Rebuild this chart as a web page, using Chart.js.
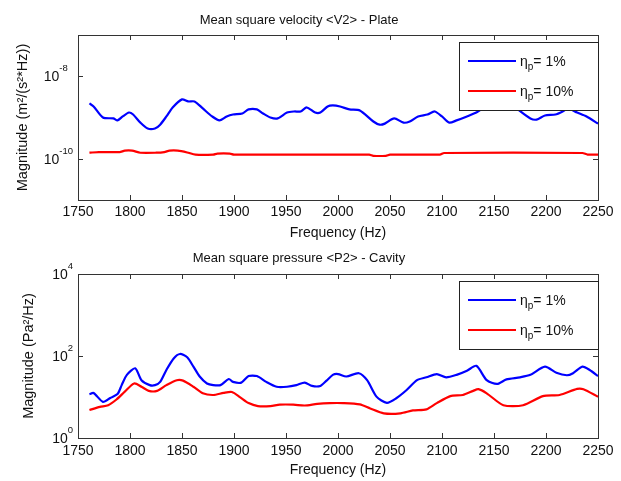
<!DOCTYPE html>
<html><head><meta charset="utf-8">
<script src="https://cdn.jsdelivr.net/npm/chart.js@4.4.1/dist/chart.umd.min.js"></script>
<style>
body{margin:0;background:#fff;width:621px;height:481px;overflow:hidden}
.w{position:absolute;left:0;width:621px}
</style></head><body>
<div class="w" style="top:0;height:240px"><canvas id="c1"></canvas></div>
<div class="w" style="top:240px;height:241px"><canvas id="c2"></canvas></div>
<script>
// ---------- data ----------
const titles = ['Mean square velocity <V2> - Plate', 'Mean square pressure <P2> - Cavity'];
const xTitle = 'Frequency (Hz)';
const yTitles = ['Magnitude (m²/(s²*Hz))', 'Magnitude (Pa²/Hz)'];
const etaValues = ['1%', '10%'];
const xMin = 1750, xMax = 2250, xStep = 50;
const plateYExp = [-10, -8];
const cavityYExp = [0, 2, 4];

const plateFreqBlue = [1761,1765,1774,1784,1788,1793,1799,1803,1810,1817,1824,1829,1835,1841,1850,1856,1862,1870,1879,1886,1893,1899,1908,1914,1922,1928,1935,1942,1951,1958,1964,1970,1978,1983,1990,1995,2002,2011,2021,2034,2040,2045,2054,2063,2069,2077,2086,2093,2100,2107,2114,2124,2133,2139,2148,2158,2166,2173,2185,2191,2199,2209,2216,2221,2230,2239,2250];
const plateBlue = [2.19e-9,1.85e-9,1.0e-9,9.5e-10,8.5e-10,1.06e-9,1.32e-9,1.18e-9,7.5e-10,5.4e-10,5.4e-10,6.7e-10,1.06e-9,1.75e-9,2.75e-9,2.45e-9,2.45e-9,1.66e-9,1.06e-9,8.5e-10,1.06e-9,1.18e-9,1.25e-9,1.57e-9,1.57e-9,1.25e-9,1.0e-9,9.5e-10,1.32e-9,1.4e-9,1.4e-9,1.75e-9,1.32e-9,1.32e-9,1.85e-9,1.96e-9,1.85e-9,1.57e-9,1.48e-9,8.0e-10,6.7e-10,7.1e-10,9.5e-10,7.5e-10,8.0e-10,1.06e-9,1.18e-9,1.4e-9,1.06e-9,7.5e-10,8.5e-10,1.06e-9,1.32e-9,1.66e-9,2.3e-9,2.75e-9,2.3e-9,1.57e-9,9.5e-10,8.9e-10,1.12e-9,1.18e-9,1.4e-9,1.66e-9,1.32e-9,1.06e-9,7.1e-10];

const plateFreqRed = [1761,1770,1790,1795,1802,1810,1825,1833,1838,1846,1855,1863,1880,1884,1896,1900,2030,2034,2046,2050,2098,2102,2235,2240,2250];
const plateRed = [1.40e-10,1.45e-10,1.45e-10,1.57e-10,1.57e-10,1.40e-10,1.40e-10,1.45e-10,1.57e-10,1.57e-10,1.42e-10,1.26e-10,1.26e-10,1.33e-10,1.33e-10,1.26e-10,1.26e-10,1.18e-10,1.18e-10,1.26e-10,1.26e-10,1.38e-10,1.38e-10,1.26e-10,1.26e-10];

const cavityFreqBlue = [1761,1765,1774,1781,1788,1792,1797,1805,1811,1819,1824,1829,1835,1842,1848,1855,1861,1867,1874,1880,1887,1895,1899,1907,1914,1922,1931,1941,1951,1960,1968,1975,1983,1989,1995,2000,2008,2020,2028,2037,2047,2056,2066,2076,2085,2095,2104,2114,2124,2133,2143,2153,2162,2175,2185,2199,2210,2220,2226,2235,2242,2250];
const cavityBlue = [11.7,12.5,7.6,9.5,11.8,19.5,34.7,50,25.7,19.5,19.5,23.4,45.7,87,112,93,55,31.6,21.4,19.5,19.5,27.5,23.4,22.4,32.4,32.4,23.4,17.8,17.8,19.5,22.4,18.6,18.6,25.1,34.7,36.3,31.6,38,25.7,10.2,7.2,9.3,14.8,25.7,30.2,36.3,30.2,34.7,43.7,57.5,25.7,20.9,26.9,30.2,34.7,55,38.9,33.9,38,55,45.7,32.4];

const cavityFreqRed = [1761,1771,1779,1787,1795,1804,1811,1818,1826,1835,1845,1851,1861,1870,1880,1890,1898,1906,1914,1923,1935,1944,1957,1968,1980,1992,2005,2021,2031,2044,2060,2072,2085,2095,2108,2120,2130,2135,2143,2159,2178,2197,2213,2230,2236,2250];
const cavityRed = [4.8,5.75,6.3,8.7,13.5,21.4,17.8,14.1,14.1,19.5,25.7,25.1,17.8,12.3,11.2,12.6,13.2,9.8,7.1,6.0,6.0,6.5,6.5,6.2,6.8,7.1,7.1,6.6,5.25,4.0,4.0,4.7,5.0,7.1,10.5,11.2,14.1,15.5,12.3,6.3,6.3,10.5,11.2,15.8,15.5,10.2];

// ---------- drawing ----------
const FONT = "'Liberation Sans', Arial, Helvetica, sans-serif";
const TEXT = '#111';
const colors = ['#0000ff', '#ff0000'];

const matFrame = {
  id: 'matFrame',
  afterDatasetsDraw(chart, args, opts) {
    const ctx = chart.ctx, ca = chart.chartArea;
    const xs = chart.scales.x, ys = chart.scales.y;
    ctx.save();
    // frame
    ctx.strokeStyle = '#333'; ctx.lineWidth = 1;
    ctx.strokeRect(Math.round(ca.left) + 0.5, Math.round(ca.top) + 0.5,
                   Math.round(ca.right - ca.left), Math.round(ca.bottom - ca.top));
    // inward ticks
    const TL = 5;
    ctx.beginPath();
    for (const t of xs.ticks) {
      const x = Math.round(xs.getPixelForValue(t.value)) + 0.5;
      ctx.moveTo(x, ca.bottom); ctx.lineTo(x, ca.bottom - TL);
      ctx.moveTo(x, ca.top); ctx.lineTo(x, ca.top + TL);
    }
    for (const e of opts.yExp) {
      const y = Math.round(ys.getPixelForValue(Math.pow(10, e))) + 0.5;
      ctx.moveTo(ca.left, y); ctx.lineTo(ca.left + TL, y);
      ctx.moveTo(ca.right, y); ctx.lineTo(ca.right - TL, y);
    }
    ctx.stroke();
    // y tick labels 10^n (left edge aligned on widest label)
    ctx.fillStyle = TEXT;
    ctx.textAlign = 'left'; ctx.textBaseline = 'alphabetic';
    const BASE = '14px ' + FONT, SUP = '9.5px ' + FONT;
    ctx.font = BASE; const bw = ctx.measureText('10').width;
    ctx.font = SUP;
    const maxW = Math.max(...opts.yExp.map(e => ctx.measureText(String(e)).width));
    const lx0 = ca.left - 5 - bw - maxW;
    for (const e of opts.yExp) {
      const y = ys.getPixelForValue(Math.pow(10, e));
      ctx.font = BASE;
      ctx.fillText('10', lx0, y + 5);
      ctx.font = SUP;
      ctx.fillText(String(e), lx0 + bw, y - 5);
    }
    // legend
    const lw = 139, lh = 68;
    const lx = ca.right - lw, ly = ca.top + 7;
    ctx.fillStyle = '#fff';
    ctx.fillRect(lx, ly, lw, lh);
    ctx.strokeStyle = '#222'; ctx.lineWidth = 1;
    ctx.strokeRect(Math.round(lx) + 0.5, Math.round(ly) + 0.5, lw, lh);
    chart.data.datasets.forEach((ds, i) => {
      const ry = ly + 19 + i * 30;
      ctx.strokeStyle = ds.borderColor; ctx.lineWidth = 2;
      ctx.beginPath(); ctx.moveTo(lx + 9, ry); ctx.lineTo(lx + 57, ry); ctx.stroke();
      ctx.fillStyle = TEXT;
      let tx = lx + 61;
      ctx.font = '14px ' + FONT;
      ctx.fillText('η', tx, ry + 5);
      tx += ctx.measureText('η').width;
      ctx.font = '10px ' + FONT;
      ctx.fillText('p', tx, ry + 9);
      tx += ctx.measureText('p').width;
      ctx.font = '14px ' + FONT;
      ctx.fillText('= ' + etaValues[i], tx, ry + 5);
    });
    ctx.restore();
  }
};

function makeChart(id, cfg) {
  return new Chart(document.getElementById(id), {
    type: 'line',
    data: {
      datasets: cfg.series.map((s, i) => ({
        label: 'ηp= ' + etaValues[i],
        data: s.f.map((f, k) => ({x: f, y: s.v[k]})),
        borderColor: colors[i], backgroundColor: colors[i],
        borderWidth: 2.2, pointRadius: 0, tension: 0.25, fill: false
      }))
    },
    options: {
      responsive: true, maintainAspectRatio: false, animation: false,
      layout: {padding: {left: 0, right: 23, top: 0, bottom: 0}},
      plugins: {
        legend: {display: false}, tooltip: {enabled: false},
        title: {display: true, text: cfg.title, color: TEXT,
                font: {family: FONT, size: 13, weight: 'normal', lineHeight: 1.2},
                padding: cfg.titlePad},
        matFrame: {yExp: cfg.yExp}
      },
      scales: {
        x: {
          type: 'linear', min: xMin, max: xMax,
          afterFit: s => { s.height = cfg.xH; },
          grid: {display: false, drawTicks: false}, border: {display: false},
          ticks: {stepSize: xStep, color: TEXT, padding: cfg.tickPad, maxRotation: 0,
                  font: {family: FONT, size: 14, lineHeight: 1.2}, callback: v => String(v)},
          title: {display: true, text: xTitle, color: TEXT,
                  font: {family: FONT, size: 14, lineHeight: 1}, padding: {top: 0, bottom: cfg.xTitleBottom}}
        },
        y: {
          type: 'logarithmic',
          min: Math.pow(10, cfg.yMinExp), max: Math.pow(10, cfg.yMaxExp),
          afterFit: s => { s.width = 78; },
          grid: {display: false, drawTicks: false}, border: {display: false},
          ticks: {display: false},
          title: {display: true, text: cfg.yTitle, color: TEXT,
                  font: {family: FONT, size: 14.5, lineHeight: 1.2}, padding: {top: cfg.yTitleLeft, bottom: 0}}
        }
      }
    },
    plugins: [matFrame]
  });
}

makeChart('c1', {
  title: titles[0], yTitle: yTitles[0], yExp: plateYExp, yMinExp: -11, yMaxExp: -7,
  titlePad: {top: 13, bottom: 6.4}, xH: 40, tickPad: 3.5, xTitleBottom: 0, yTitleLeft: 14.3,
  series: [{f: plateFreqBlue, v: plateBlue}, {f: plateFreqRed, v: plateRed}]
});
makeChart('c2', {
  title: titles[1], yTitle: yTitles[1], yExp: cavityYExp, yMinExp: 0, yMaxExp: 4,
  titlePad: {top: 11, bottom: 7.4}, xH: 43, tickPad: 4.5, xTitleBottom: 4, yTitleLeft: 20,
  series: [{f: cavityFreqBlue, v: cavityBlue}, {f: cavityFreqRed, v: cavityRed}]
});
</script>
</body></html>
